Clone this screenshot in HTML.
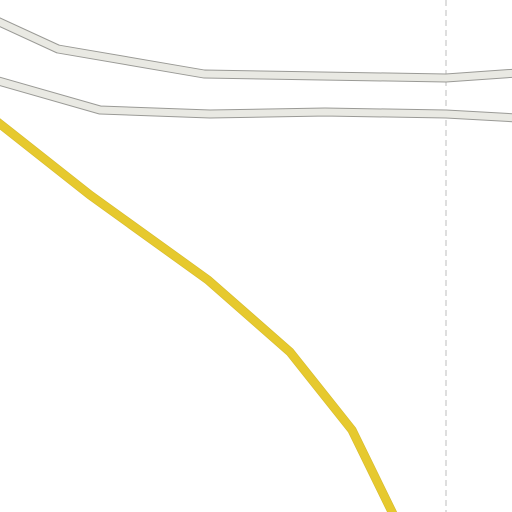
<!DOCTYPE html>
<html><head><meta charset="utf-8"><style>html,body{margin:0;padding:0;background:#fff}svg{display:block}</style></head>
<body>
<svg id="map" width="512" height="512" viewBox="0 0 512 512" xmlns="http://www.w3.org/2000/svg">
<rect width="512" height="512" fill="#ffffff"/>
<line x1="446" y1="0" x2="446" y2="512" stroke="#bdbdbd" stroke-width="1" stroke-dasharray="6,4"/>
</svg>
<script>
const upperRoadX=[-5,58,204,446,517];
const upperRoadY=[20,49,74,78,73];
const lowerRoadX=[-5,100,210,325,446,517];
const lowerRoadY=[80,110,114,112,114,118];
const yellowRoadX=[-5,90,208,290,352,395];
const yellowRoadY=[120,195,280,352,430,518];
const svg=document.getElementById('map');
const NS='http://www.w3.org/2000/svg';
function pts(xs,ys){return xs.map((x,i)=>x+','+ys[i]).join(' ');}
function road(xs,ys,name,casing,fill,w,c){
  const g=document.createElementNS(NS,'g');
  
  
  const a=document.createElementNS(NS,'polyline');
  a.setAttribute('points',pts(xs,ys));a.setAttribute('fill','none');
  a.setAttribute('stroke',casing);a.setAttribute('stroke-width',w+c);
  a.setAttribute('stroke-linejoin','round');
  
  
  const b=document.createElementNS(NS,'polyline');
  b.setAttribute('points',pts(xs,ys));b.setAttribute('fill','none');
  b.setAttribute('stroke',fill);b.setAttribute('stroke-width',w);
  b.setAttribute('stroke-linejoin','round');
  
  
  g.appendChild(a);g.appendChild(b);svg.appendChild(g);
}
road(upperRoadX,upperRoadY,'upper-road','#9a9a96','#e9e9e3',7,2);
road(lowerRoadX,lowerRoadY,'lower-road','#9a9a96','#e9e9e3',7,2);
road(yellowRoadX,yellowRoadY,'yellow-road','#d2b62a','#e6c92e',8,1);
</script>
</body></html>
